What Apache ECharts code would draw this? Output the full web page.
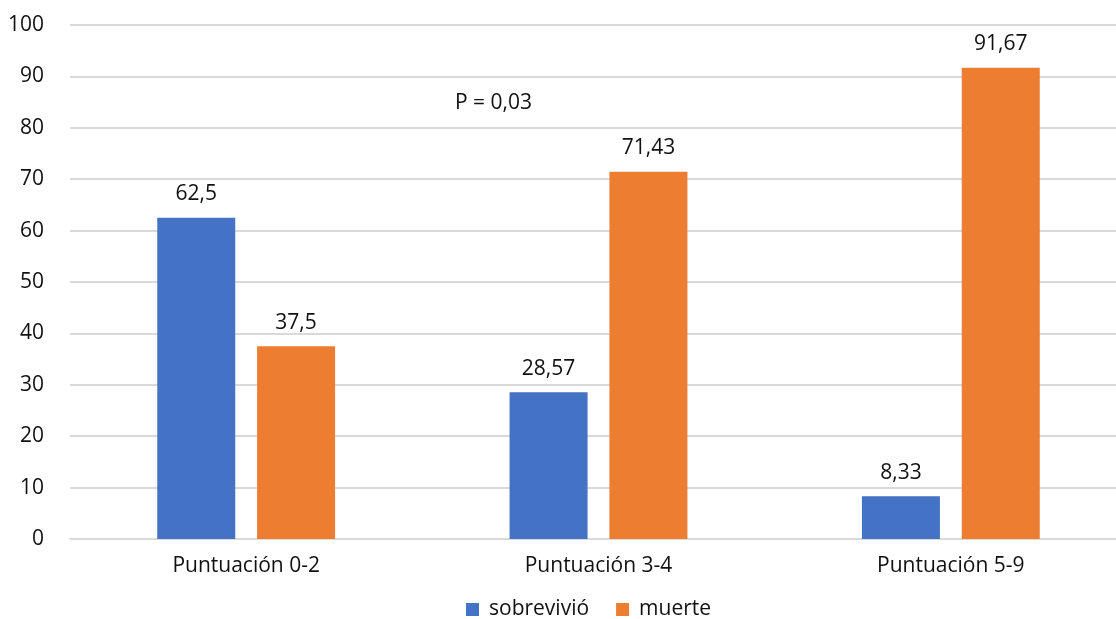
<!DOCTYPE html>
<html>
<head>
<meta charset="utf-8">
<script src="https://cdn.jsdelivr.net/npm/echarts@6/dist/echarts.min.js"></script>
<style>html,body{margin:0;padding:0;background:#fff}#c{width:1116px;height:619px}</style>
</head>
<body>
<div id="c"></div>
<script>
const categories = ['Puntuación 0-2', 'Puntuación 3-4', 'Puntuación 5-9'];
const sobrevivio = [62.5, 28.57, 8.33];
const muerte = [37.5, 71.43, 91.67];
const seriesNames = ['sobrevivió', 'muerte'];
const annotation = 'P = 0,03';

const FONT = 'Open Sans';
const FS = 21;
const chart = echarts.init(document.getElementById('c'), null, {renderer: 'canvas'});
const labelFmt = p => String(p.value).replace('.', ',');
chart.setOption({
  animation: false,
  textStyle: {fontFamily: FONT},
  grid: {left: 70, width: 1057, top: 25, height: 514, containLabel: false, outerBoundsMode: 'none'},
  legend: {
    top: 594, left: 461, itemWidth: 13, itemHeight: 13, itemGap: 27,
    icon: 'rect',
    textStyle: {fontFamily: FONT, fontSize: FS, color: '#111', padding: [0, 0, 0, 5]},
    data: seriesNames
  },
  xAxis: {
    type: 'category', data: categories,
    axisLine: {lineStyle: {color: '#d9d9d9', width: 2}},
    axisTick: {show: false},
    axisLabel: {fontFamily: FONT, fontSize: FS, color: '#111', margin: 17}
  },
  yAxis: {
    type: 'value', min: 0, max: 100, interval: 10,
    axisLine: {show: false}, axisTick: {show: false},
    splitLine: {lineStyle: {color: '#d9d9d9', width: 2}},
    axisLabel: {fontFamily: FONT, fontSize: FS, color: '#111', margin: 26}
  },
  graphic: [{
    type: 'text', left: 455, top: 93,
    style: {text: annotation, font: FS + 'px "Open Sans"', fill: '#111'}
  }],
  series: [
    {name: seriesNames[0], type: 'bar', data: sobrevivio, barWidth: 78, barGap: '28%',
     itemStyle: {color: '#4472C4'},
     label: {show: true, position: 'top', distance: 13, formatter: labelFmt, fontFamily: FONT, fontSize: FS, color: '#111'}},
    {name: seriesNames[1], type: 'bar', data: muerte, barWidth: 78, barGap: '28%',
     itemStyle: {color: '#ED7D31'},
     label: {show: true, position: 'top', distance: 13, formatter: labelFmt, fontFamily: FONT, fontSize: FS, color: '#111'}}
  ]
});
</script>
</body>
</html>
